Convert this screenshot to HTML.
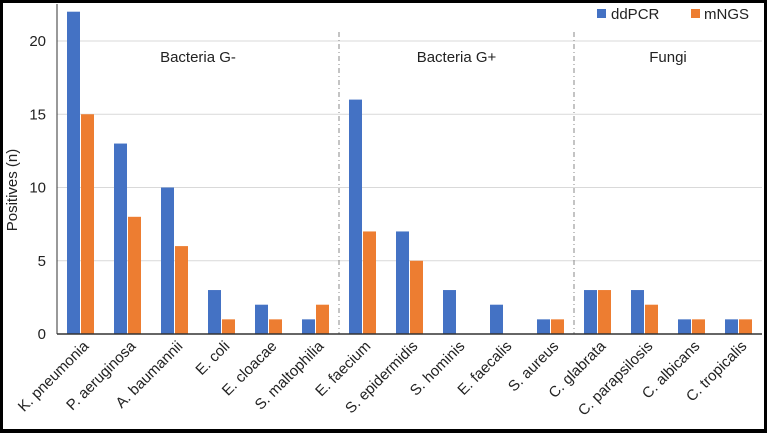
<!DOCTYPE html>
<html><head><meta charset="utf-8"><style>
html,body{margin:0;padding:0;background:#000;}
svg{display:block;font-family:"Liberation Sans",Arial,sans-serif;}
</style></head><body>
<svg width="767" height="433" viewBox="0 0 767 433">
<rect x="3" y="3" width="761" height="426" fill="#fff"/>
<g id="grid"></g>
<g id="bars"></g>
<g id="axes"></g>
<g id="labels"></g>
<g>
<rect x="597" y="9" width="9" height="9" fill="#4472C4"/>
<text x="611" y="19" font-size="15" fill="#222">ddPCR</text>
<rect x="691" y="9" width="9" height="9" fill="#ED7D31"/>
<text x="704" y="19" font-size="15" fill="#222">mNGS</text>
</g>
<text transform="translate(17,190) rotate(-90)" text-anchor="middle" font-size="15" fill="#222">Positives (n)</text>
</svg>
<script>
const categories = ["K. pneumonia","P. aeruginosa","A. baumannii","E. coli","E. cloacae","S. maltophilia","E. faecium","S. epidermidis","S. hominis","E. faecalis","S. aureus","C. glabrata","C. parapsilosis","C. albicans","C. tropicalis"];
const ddpcr = [22,13,10,3,2,1,16,7,3,2,1,3,3,1,1];
const mngs = [15,8,6,1,1,2,7,5,0,0,1,3,2,1,1];
const yTicks = [0,5,10,15,20];
const groupNames = ["Bacteria G-","Bacteria G+","Fungi"];
const groupBounds = [0,6,11,15];

const NS="http://www.w3.org/2000/svg";
const L=57,R=762,Y0=334,PU=14.65;
const slot=(R-L)/categories.length;
const x=i=>L+slot*(i+0.5);
const y=v=>Y0-v*PU;
function mk(tag,attrs,parent){const e=document.createElementNS(NS,tag);for(const k in attrs)e.setAttribute(k,attrs[k]);document.getElementById(parent).appendChild(e);return e;}

yTicks.forEach(t=>{
  if(t>0){const g=mk('line',{x1:L,x2:R,y1:y(t),y2:y(t),stroke:'#d9d9d9','stroke-width':1},'grid');
  
  }
  const tx=mk('text',{x:46,y:y(t)+5,'text-anchor':'end','font-size':15,fill:'#222'},'labels');
  tx.textContent=t;
  
  
});
for(let k=1;k<groupBounds.length-1;k++){
  const sx=L+slot*groupBounds[k];
  const s=mk('line',{x1:sx,x2:sx,y1:32,y2:Y0,stroke:'#888','stroke-width':1,'stroke-dasharray':'5,3,1,3'},'grid');
  
  
}
groupNames.forEach((n,k)=>{
  const cx=L+slot*(groupBounds[k]+groupBounds[k+1])/2;
  const t=mk('text',{x:cx,y:62,'text-anchor':'middle','font-size':15,fill:'#222'},'labels');
  t.textContent=n;
  
  
});
const bw=13;
categories.forEach((c,i)=>{
  const b1=mk('rect',{x:x(i)-bw-0.5,y:y(ddpcr[i]),width:bw,height:ddpcr[i]*PU,fill:'#4472C4'},'bars');
  
  
  const b2=mk('rect',{x:x(i)+0.5,y:y(mngs[i]),width:bw,height:mngs[i]*PU,fill:'#ED7D31'},'bars');
  
  
  const ax=x(i)+9, ay=347;
  const t=mk('text',{x:ax,y:ay,'text-anchor':'end','font-size':15,fill:'#222',transform:`rotate(-45 ${ax} ${ay})`},'labels');
  t.textContent=c;
  
  
});
const a1=mk('line',{x1:L,x2:R,y1:Y0,y2:Y0,stroke:'#333','stroke-width':1.5},'axes');


const a2=mk('line',{x1:L,x2:L,y1:4,y2:Y0,stroke:'#333','stroke-width':1},'axes');


</script>
</body></html>
